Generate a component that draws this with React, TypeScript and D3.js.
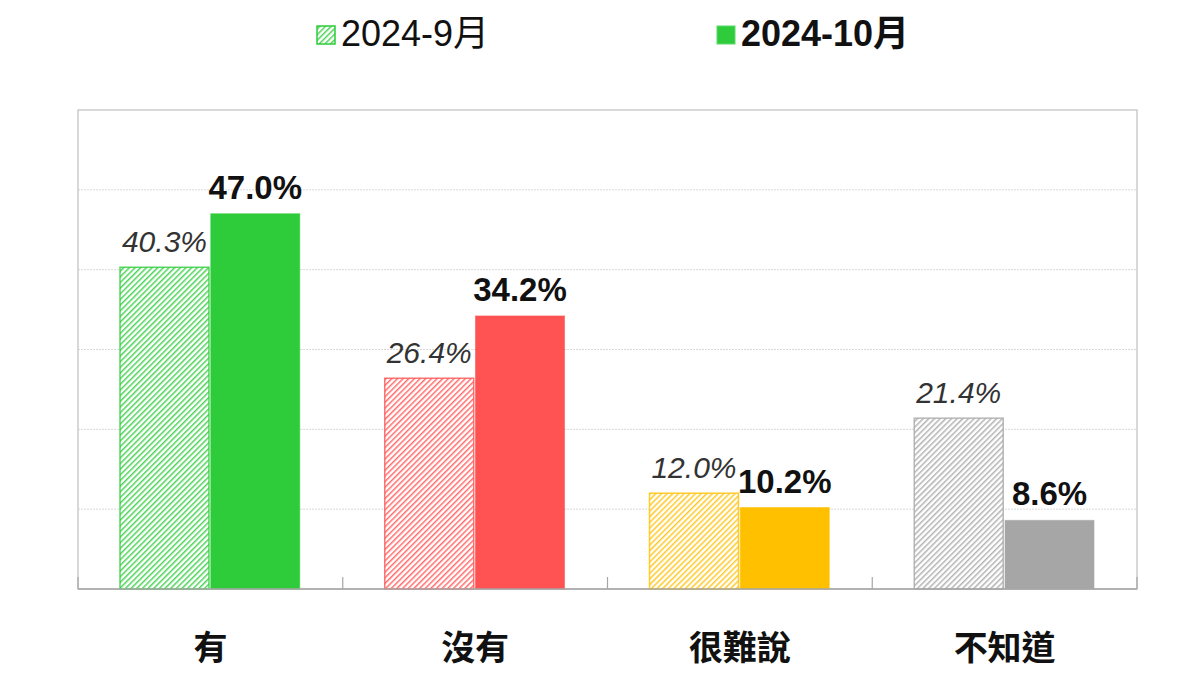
import { scaleBand, scaleLinear } from "d3";

const categories = ["有", "沒有", "很難說", "不知道"];
const sept = [40.3, 26.4, 12.0, 21.4];
const oct = [47.0, 34.2, 10.2, 8.6];
const seriesNames = ["2024-9月", "2024-10月"];
const colors = ["#2ECC3A", "#FF5252", "#FFC000", "#A6A6A6"];
const yTicks = [0, 10, 20, 30, 40, 50, 60];

const W = 1200;
const H = 675;
const FONT = "'Liberation Sans', Arial, 'Noto Sans CJK TC', sans-serif";

export default function App() {
    const left = 78;
    const right = 1137;
    const top = 110;
    const bottom = 589;

    const x = scaleBand().domain(categories).range([left, right]);
    const inner = scaleBand()
        .domain(["a", "b"])
        .range([42, x.bandwidth() - 43])
        .paddingInner(0.02);
    const y = scaleLinear().domain([0, 60]).range([bottom, top]);

    return (
        <svg
            width={W}
            height={H}
            style={{ position: "absolute", left: 0, top: 0, background: "#fff" }}
            fontFamily={FONT}
        >
            <defs>
                {colors.map((c, i) => (
                    <pattern
                        key={i}
                        id={`hatch${i}`}
                        width={4}
                        height={4}
                        patternUnits="userSpaceOnUse"
                        patternTransform="rotate(45)"
                    >
                        <rect width={4} height={4} fill="#fff" />
                        <line x1={0} y1={0} x2={0} y2={4} stroke={c} strokeWidth={3} opacity={0.85} />
                    </pattern>
                ))}
            </defs>

            {/* legend */}
            <rect x={317} y={26} width={18} height={18} fill="url(#hatch0)" stroke={colors[0]} strokeWidth={1.5} />
            <text x={341} y={46} fontSize={36} fill="#111">
                {seriesNames[0]}
            </text>
            <rect x={717} y={26} width={18} height={18} fill={colors[0]} stroke="#5fd86a" strokeWidth={1} />
            <text x={741} y={46} fontSize={36} fontWeight="bold" fill="#111">
                {seriesNames[1]}
            </text>

            {/* grid */}
            {yTicks.slice(1, -1).map((t) => (
                <line
                    key={t}
                    x1={left}
                    x2={right}
                    y1={y(t)}
                    y2={y(t)}
                    stroke="#d9d9d9"
                    strokeWidth={1}
                    strokeDasharray="2,1"
                />
            ))}
            <rect
                x={left}
                y={top}
                width={right - left}
                height={bottom - top}
                fill="none"
                stroke="#bfbfbf"
                strokeWidth={1.2}
            />

            {/* bars */}
            {categories.map((cat, i) => {
                const gx = x(cat) ?? 0;
                const ax = gx + (inner("a") ?? 0);
                const bx = gx + (inner("b") ?? 0);
                const bw = inner.bandwidth();
                return (
                    <g key={cat}>
                        <rect
                            x={ax}
                            y={y(sept[i])}
                            width={bw}
                            height={y(0) - y(sept[i])}
                            fill={`url(#hatch${i})`}
                            stroke={colors[i]}
                            strokeOpacity={0.8}
                            strokeWidth={1.5}
                        />
                        <rect
                            x={bx}
                            y={y(oct[i])}
                            width={bw}
                            height={y(0) - y(oct[i])}
                            fill={colors[i]}
                            stroke={colors[i]}
                            strokeOpacity={0.6}
                            strokeWidth={1}
                        />
                        <text
                            x={ax + bw / 2}
                            y={y(sept[i]) - 15}
                            textAnchor="middle"
                            fontSize={30}
                            fontStyle="italic"
                            fill="#333"
                        >
                            {sept[i].toFixed(1)}%
                        </text>
                        <text
                            x={bx + bw / 2}
                            y={y(oct[i]) - 15}
                            textAnchor="middle"
                            fontSize={33}
                            fontWeight="bold"
                            fill="#111"
                        >
                            {oct[i].toFixed(1)}%
                        </text>
                        <text
                            x={gx + x.bandwidth() / 2}
                            y={660}
                            textAnchor="middle"
                            fontSize={34}
                            fontWeight="bold"
                            fill="#111"
                        >
                            {cat}
                        </text>
                    </g>
                );
            })}

            {/* axis baseline + ticks */}
            <line x1={left} x2={right} y1={bottom} y2={bottom} stroke="#a6a6a6" strokeWidth={1.5} />
            {categories.map((cat) => {
                const tx = x(cat) ?? 0;
                return (
                    <line key={cat} x1={tx} x2={tx} y1={bottom} y2={bottom - 12} stroke="#a6a6a6" strokeWidth={1.2} />
                );
            })}
            <line x1={right} x2={right} y1={bottom} y2={bottom - 12} stroke="#a6a6a6" strokeWidth={1.2} />
        </svg>
    );
}
